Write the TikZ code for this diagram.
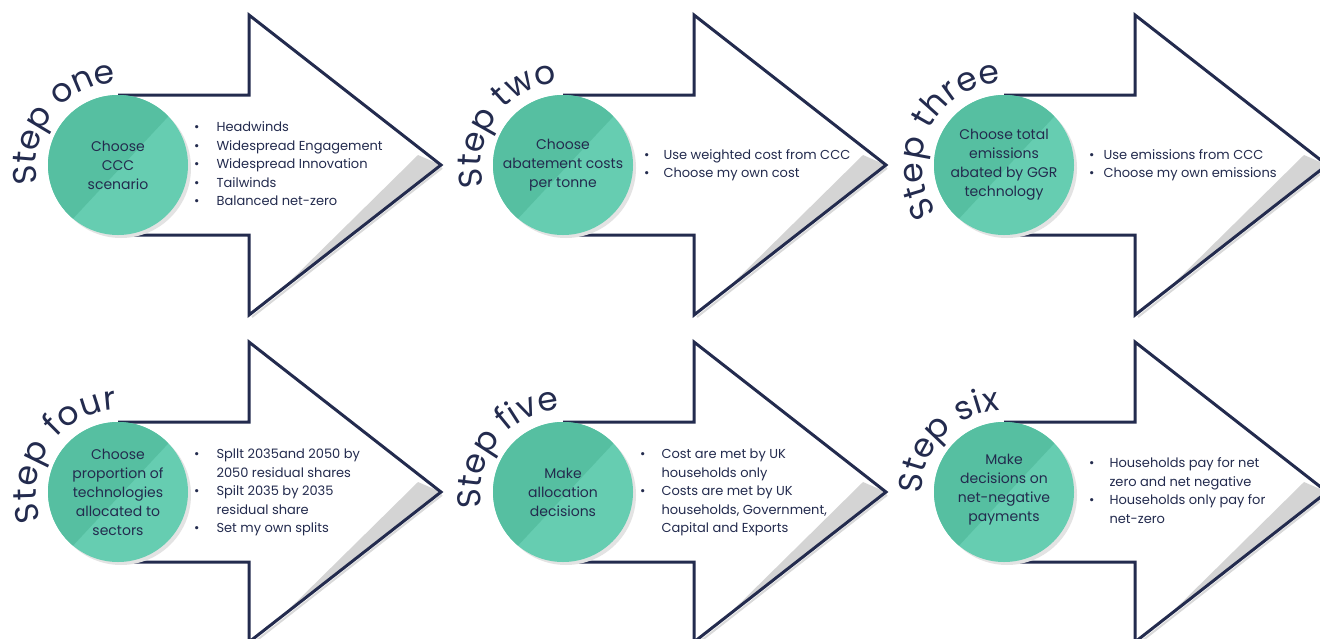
\documentclass[tikz,border=0pt]{standalone}
\usepackage{fontspec}
\setmainfont{Poppins}
\usepackage{tikz}
\usetikzlibrary{calc,decorations.text}

\definecolor{navy}{HTML}{232B4E}
\definecolor{greendark}{HTML}{56BFA1}
\definecolor{greenlight}{HTML}{66CDB1}
\definecolor{tipshade}{HTML}{D4D4D4}
\newcommand{\stepsize}{\fontsize{33}{33}\selectfont}

\begin{document}
\begin{tikzpicture}[x=1pt,y=1pt,
		circletext/.style={text=navy,align=center,font=\fontsize{14}{19}\selectfont},
		listtext/.style={text=navy,anchor=west,inner sep=0pt,font=\fontsize{13}{18.5}\selectfont},
		steplabel/.style={decorate,decoration={text along path,text color=navy,text align={fit to path}}}]
		\useasboundingbox (0,0) rectangle (1320,-638);
		%----------------------------------------------------
		% Arrows, shading at the tip, circles
		%----------------------------------------------------
		\foreach \cx/\cy/\n in {118/-165/1,563/-165/2,1004/-165/3,118/-492/4,563/-492/5,1004/-492/6}{
			\coordinate (c\n) at (\cx,\cy);
			\coordinate (sa\n) at ($(c\n)+(0,70)$);
			\coordinate (sb\n) at ($(c\n)+(131,70)$);
			\coordinate (ha\n) at ($(c\n)+(131,150)$);
			\coordinate (tip\n) at ($(c\n)+(323,0)$);
			\coordinate (hb\n) at ($(c\n)+(131,-150)$);
			\coordinate (sc\n) at ($(c\n)+(131,-70)$);
			\coordinate (sd\n) at ($(c\n)+(0,-70)$);
			\fill[white] (sa\n) -- (sb\n) -- (ha\n) -- (tip\n) -- (hb\n) -- (sc\n) -- (sd\n) -- cycle;
			\fill[tipshade] ($(tip\n)+(-23,10)$) -- (tip\n) -- ($(c\n)+(162,-126)$) -- cycle;
			\draw[gray!30,line width=2pt] ($(tip\n)+(1,-3)$) -- ($(hb\n)+(3,-2)$);
			\draw[navy,line width=3pt,line join=miter] (sa\n) -- (sb\n) -- (ha\n) -- (tip\n) -- (hb\n) -- (sc\n) -- (sd\n);
			\fill[gray!22] ($(c\n)+(3,-3)$) circle (70);
			\fill[greenlight] (c\n) circle (70);
			\fill[greendark] ($(c\n)+(44:70)$) arc[start angle=44,end angle=230,radius=70] -- cycle;
		}
		
		%----------------------------------------------------
		% Step labels round the circles
		%----------------------------------------------------
		\path[steplabel,decoration={text={|\stepsize|Step one}}] ($(c1)+(193:82)$) arc[start angle=193,end angle=93,radius=82];
		\path[steplabel,decoration={text={|\stepsize|Step two}}] ($(c2)+(195:82)$) arc[start angle=195,end angle=94,radius=82];
		\path[steplabel,decoration={text={|\stepsize|Step three}}] ($(c3)+(215:82)$) arc[start angle=215,end angle=92,radius=82];
		\path[steplabel,decoration={text={|\stepsize|Step four}}] ($(c4)+(200:82)$) arc[start angle=200,end angle=91,radius=82];
		\path[steplabel,decoration={text={|\stepsize|Step five}}] ($(c5)+(191:82)$) arc[start angle=191,end angle=94,radius=82];
		\path[steplabel,decoration={text={|\stepsize|Step six}}] ($(c6)+(181:82)$) arc[start angle=181,end angle=93,radius=82];
		
		%----------------------------------------------------
		% Text in the circles
		%----------------------------------------------------
		\node[circletext] (t1) at (c1) {Choose\\CCC\\scenario};
		\node[circletext] (t2) at (c2) {Choose\\abatement costs\\per tonne};
		\node[circletext] (t3) at (c3) {Choose total\\emissions\\abated by GGR\\technology};
		\node[circletext] (t4) at (c4) {Choose\\proportion of\\technologies\\allocated to\\sectors};
		\node[circletext] (t5) at (c5) {Make\\allocation\\decisions};
		\node[circletext] (t6) at ($(c6)+(0,2)$) {Make\\decisions on\\net-negative\\payments};
		
		%----------------------------------------------------
		% Options in the arrows
		%----------------------------------------------------
		\node[listtext] (l1) at ($(c1)+(76,0)$) {\begin{tabular}{@{}l@{\hspace{17pt}}l@{}}
				\textbullet & Headwinds\\
				\textbullet & Widespread Engagement\\
				\textbullet & Widespread Innovation\\
				\textbullet & Tailwinds\\
				\textbullet & Balanced net-zero
			\end{tabular}};
		\node[listtext] (l2) at ($(c2)+(81,0)$) {\begin{tabular}{@{}l@{\hspace{14pt}}l@{}}
				\textbullet & Use weighted cost from CCC\\
				\textbullet & Choose my own cost
			\end{tabular}};
		\node[listtext] (l3) at ($(c3)+(85,0)$) {\begin{tabular}{@{}l@{\hspace{9pt}}l@{}}
				\textbullet & Use emissions from CCC\\
				\textbullet & Choose my own emissions
			\end{tabular}};
		\node[listtext] (l4) at ($(c4)+(76,0)$) {\begin{tabular}{@{}l@{\hspace{17pt}}l@{}}
				\textbullet & Spllt 2035and 2050 by\\
				& 2050 residual shares\\
				\textbullet & Spilt 2035 by 2035\\
				& residual share\\
				\textbullet & Set my own splits
			\end{tabular}};
		\node[listtext] (l5) at ($(c5)+(77,0)$) {\begin{tabular}{@{}l@{\hspace{16pt}}l@{}}
				\textbullet & Cost are met by UK\\
				& households only\\
				\textbullet & Costs are met by UK\\
				& households, Government,\\
				& Capital and Exports
			\end{tabular}};
		\node[listtext] (l6) at ($(c6)+(85,0)$) {\begin{tabular}{@{}l@{\hspace{15pt}}l@{}}
				\textbullet & Households pay for net\\
				& zero and net negative\\
				\textbullet & Households only pay for\\
				& net-zero
			\end{tabular}};
	\end{tikzpicture}
\end{document}
